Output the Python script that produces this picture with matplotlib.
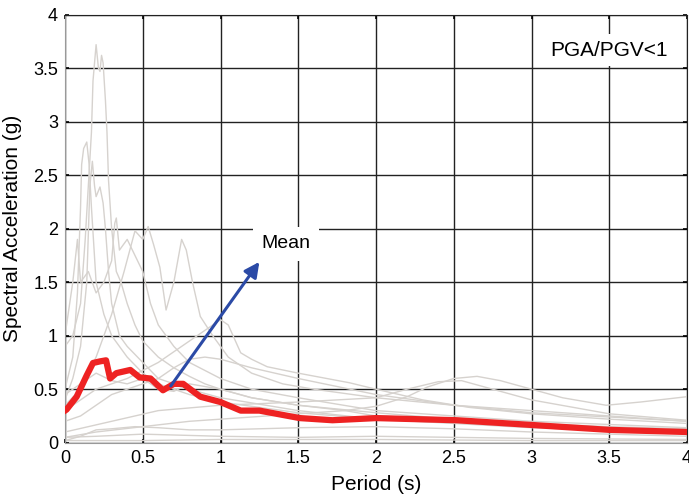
import matplotlib
matplotlib.use("Agg")
import matplotlib.pyplot as plt

plt.rcParams['font.family'] = ['Liberation Sans', 'DejaVu Sans']

# Mean spectrum (red)
mean_T = [0.0, 0.01, 0.075, 0.14, 0.18, 0.225, 0.264, 0.29, 0.33, 0.42, 0.48, 0.55, 0.63, 0.70,
          0.76, 0.87, 1.0, 1.13, 1.25, 1.51, 1.72, 2.0, 2.52, 3.01, 3.5, 4.0]
mean_Sa = [0.30, 0.31, 0.43, 0.63, 0.745, 0.76, 0.77, 0.60, 0.65, 0.68, 0.61, 0.60, 0.49, 0.55,
           0.55, 0.43, 0.38, 0.30, 0.30, 0.23, 0.21, 0.23, 0.21, 0.165, 0.12, 0.10]

# Individual record spectra (grey)
g1_T = [0, 0.05, 0.1, 0.13, 0.15, 0.17, 0.18, 0.2, 0.215, 0.225, 0.235, 0.245, 0.26, 0.27, 0.28, 0.3,
        0.33, 0.36, 0.4, 0.45, 0.5, 0.6, 0.7, 0.8, 0.9, 1.0, 1.2, 1.5, 2.0, 2.5, 3.0, 3.5, 4.0]
g1_Sa = [0.9, 1.0, 1.3, 1.9, 2.4, 2.9, 3.38, 3.72, 3.5, 3.47, 3.62, 3.55, 3.2, 2.9, 2.45, 2.0,
         1.6, 1.5, 1.3, 1.1, 0.95, 0.8, 0.7, 0.62, 0.55, 0.5, 0.42, 0.35, 0.28, 0.22, 0.18, 0.15, 0.13]
g2_T = [0, 0.05, 0.08, 0.1, 0.107, 0.12, 0.14, 0.155, 0.17, 0.2, 0.25, 0.3, 0.4, 0.5, 0.6, 0.8,
        1.0, 1.5, 2, 3, 4]
g2_Sa = [0.5, 0.8, 1.4, 2.2, 2.6, 2.75, 2.81, 2.6, 2.2, 1.5, 1.2, 1.0, 0.8, 0.65, 0.55, 0.45,
         0.38, 0.28, 0.22, 0.15, 0.1]
g3_T = [0, 0.05, 0.1, 0.14, 0.16, 0.176, 0.19, 0.2, 0.225, 0.245, 0.26, 0.28, 0.3, 0.35, 0.4, 0.5,
        0.6, 0.7, 0.8, 1.0, 1.5, 2, 2.5, 3, 4]
g3_Sa = [0.4, 0.6, 0.9, 1.5, 2.4, 2.63, 2.4, 2.3, 2.39, 2.24, 2.0, 1.6, 1.3, 1.0, 0.9, 0.75,
         0.6, 0.55, 0.5, 0.42, 0.3, 0.22, 0.18, 0.14, 0.1]
g4_T = [0, 0.05, 0.08, 0.1, 0.15, 0.2, 0.25, 0.3, 0.32, 0.33, 0.35, 0.4, 0.45, 0.5, 0.55, 0.6,
        0.7, 0.8, 1.0, 1.2, 1.5, 2, 2.5, 3, 4]
g4_Sa = [1.0, 1.5, 1.9, 1.5, 1.6, 1.4, 1.5, 1.7, 2.05, 2.1, 1.8, 1.9, 1.75, 1.6, 1.3, 1.1,
         0.9, 0.75, 0.6, 0.5, 0.42, 0.3, 0.25, 0.2, 0.14]
g5_T = [0, 0.1, 0.2, 0.3, 0.38, 0.45, 0.5, 0.535, 0.57, 0.61, 0.65, 0.7, 0.75, 0.78, 0.82, 0.87,
        0.95, 1.05, 1.2, 1.4, 1.6, 2.0, 2.5, 3.0, 3.5, 4.0]
g5_Sa = [0.35, 0.5, 0.8, 1.2, 1.6, 1.98, 1.9, 2.02, 1.85, 1.64, 1.24, 1.5, 1.9, 1.8, 1.5, 1.18,
         1.0, 0.8, 0.65, 0.55, 0.5, 0.42, 0.35, 0.28, 0.24, 0.2]
g6_T = [0, 0.2, 0.4, 0.6, 0.8, 0.9, 1.0, 1.05, 1.13, 1.2, 1.3, 1.5, 1.83, 2.0, 2.3, 2.6, 3.0, 3.5, 4.0]
g6_Sa = [0.3, 0.5, 0.6, 0.75, 0.95, 1.05, 1.15, 1.1, 0.84, 0.78, 0.71, 0.65, 0.56, 0.5, 0.4, 0.33,
         0.27, 0.22, 0.18]
g7_T = [0, 0.2, 0.5, 0.8, 1.0, 1.3, 1.6, 1.8, 2.0, 2.2, 2.33, 2.5, 2.65, 2.8, 3.0, 3.2, 3.48, 3.7, 4.0]
g7_Sa = [0.05, 0.1, 0.15, 0.2, 0.22, 0.25, 0.28, 0.3, 0.34, 0.43, 0.52, 0.6, 0.62, 0.58, 0.5, 0.42,
         0.35, 0.38, 0.43]
g8_T = [0, 0.3, 0.6, 1.0, 1.5, 2.0, 2.2, 2.4, 2.55, 2.7, 3.0, 3.5, 4.0]
g8_Sa = [0.1, 0.2, 0.3, 0.35, 0.38, 0.42, 0.5, 0.57, 0.58, 0.52, 0.4, 0.27, 0.21]
g9_T = [0, 0.1, 0.2, 0.3, 0.45, 0.6, 0.8, 1.0, 1.5, 2.0, 2.5, 3.0, 3.5, 4.0]
g9_Sa = [0.02, 0.06, 0.12, 0.13, 0.15, 0.14, 0.12, 0.12, 0.14, 0.15, 0.13, 0.1, 0.08, 0.06]
g10_T = [0, 0.2, 0.5, 1.0, 1.5, 2.0, 3.0, 4.0]
g10_Sa = [0.05, 0.06, 0.08, 0.06, 0.05, 0.06, 0.04, 0.03]
g11_T = [0, 0.5, 1, 2, 3, 4]
g11_Sa = [0.02, 0.02, 0.03, 0.03, 0.02, 0.02]
g12_T = [0, 0.1, 0.2, 0.3, 0.4, 0.5, 0.6, 0.7, 0.8, 0.9, 1.0, 1.2, 1.5, 2.0, 2.5, 3.0, 3.5, 4.0]
g12_Sa = [0.2, 0.25, 0.35, 0.45, 0.5, 0.55, 0.6, 0.7, 0.78, 0.8, 0.78, 0.7, 0.6, 0.45, 0.35, 0.3, 0.25, 0.2]
g13_T = [0, 0.05, 0.1, 0.15, 0.2, 0.3, 0.4, 0.5, 0.6, 0.7, 0.8, 1.0, 1.2, 1.5, 1.8, 2.0, 2.5, 3.0, 3.5, 4.0]
g13_Sa = [0.45, 0.5, 0.55, 0.6, 0.65, 0.58, 0.55, 0.6, 0.5, 0.48, 0.55, 0.5, 0.42, 0.35, 0.3, 0.25,
          0.22, 0.17, 0.13, 0.1]

grey_T = [g1_T, g2_T, g3_T, g4_T, g5_T, g6_T, g7_T, g8_T, g9_T, g10_T, g11_T, g12_T, g13_T]
grey_Sa = [g1_Sa, g2_Sa, g3_Sa, g4_Sa, g5_Sa, g6_Sa, g7_Sa, g8_Sa, g9_Sa, g10_Sa, g11_Sa, g12_Sa, g13_Sa]

x_ticks = [0, 0.5, 1, 1.5, 2, 2.5, 3, 3.5, 4]
x_ticklabels = ['0', '0.5', '1', '1.5', '2', '2.5', '3', '3.5', '4']
y_ticks = [0, 0.5, 1, 1.5, 2, 2.5, 3, 3.5, 4]
y_ticklabels = ['0', '0.5', '1', '1.5', '2', '2.5', '3', '3.5', '4']

fig = plt.figure(figsize=(6.89, 4.96), dpi=100)
ax = fig.add_axes([65 / 689, 53.3 / 496, (687 - 65) / 689, (442.7 - 14.7) / 496])

for T, Sa in zip(grey_T, grey_Sa):
    ax.plot(T, Sa, color='#d6d2ce', lw=1.0, zorder=2)

ax.plot(mean_T, mean_Sa, color='#ee2222', lw=4.5, solid_joinstyle='round', zorder=3)

ax.annotate('', xy=(1.25, 1.69), xytext=(0.68, 0.53),
            arrowprops=dict(arrowstyle='-|>,head_length=0.9,head_width=0.45', color='#2b4aa6',
                            lw=2.2, shrinkA=0, shrinkB=0), zorder=5)

ax.text(1.42, 1.86, 'Mean', fontsize=14, ha='center', va='center', zorder=6,
        bbox=dict(facecolor='white', edgecolor='none', pad=6))
ax.text(3.5, 3.67, 'PGA/PGV<1', fontsize=15, ha='center', va='center', zorder=6,
        bbox=dict(facecolor='white', edgecolor='none', pad=5))

ax.set_xlim(0, 4)
ax.set_ylim(0, 4)
ax.set_xticks(x_ticks)
ax.set_xticklabels(x_ticklabels)
ax.set_yticks(y_ticks)
ax.set_yticklabels(y_ticklabels)
ax.tick_params(direction='in', length=3, top=True, right=True, labelsize=13, width=1.2, pad=5)
ax.grid(True, color='#222222', lw=1.0)
ax.set_axisbelow(True)
for s in ['left', 'bottom']:
    ax.spines[s].set_color('#999999')
for s in ['top', 'right']:
    ax.spines[s].set_color('#222222')

ax.set_xlabel('Period (s)', fontsize=15, labelpad=6)
ax.set_ylabel('Spectral Acceleration (g)', fontsize=15, labelpad=8)

fig.savefig('out.png', dpi=100)
